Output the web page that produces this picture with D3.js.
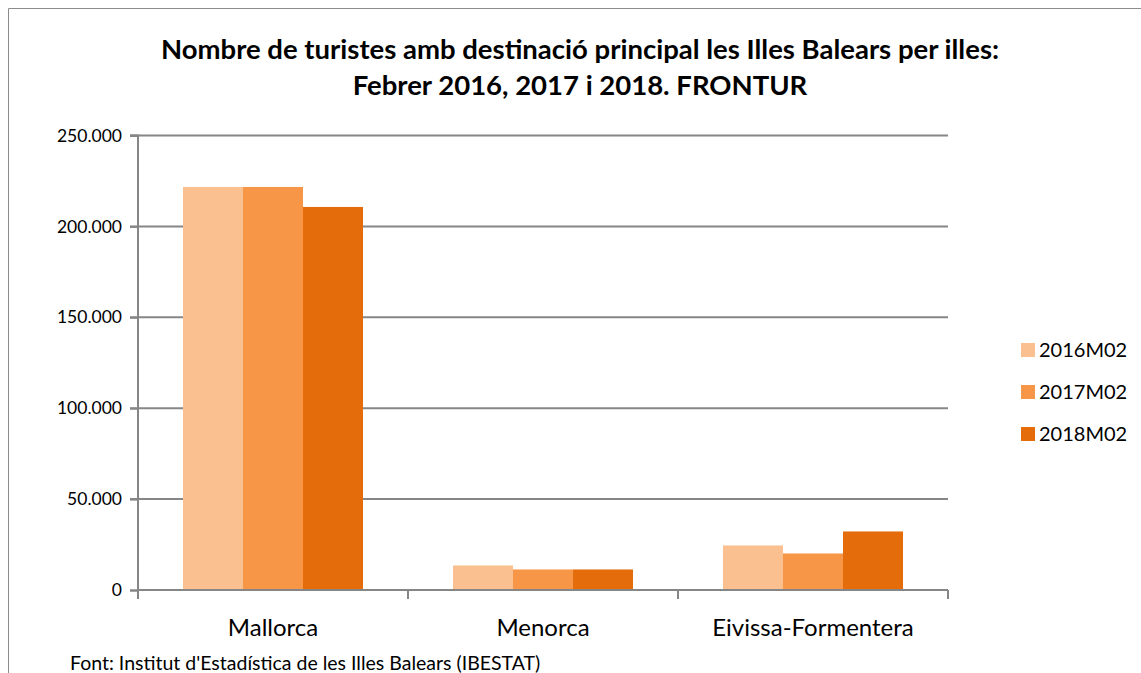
<!DOCTYPE html>
<html><head><meta charset="utf-8">
<script src="https://cdn.jsdelivr.net/npm/d3@7"></script>
<style>body{margin:0;background:#fff}svg{display:block}</style>
</head><body>
<script>
const categories = ["Mallorca", "Menorca", "Eivissa-Formentera"];
const seriesNames = ["2016M02", "2017M02", "2018M02"];
const values2016 = [221700, 13500, 24500];
const values2017 = [221700, 11300, 20100];
const values2018 = [210700, 11300, 32200];
const yTicks = [0, 50000, 100000, 150000, 200000, 250000];
const titleLines = ["Nombre de turistes amb destinació principal les Illes Balears per illes:", "Febrer 2016,  2017  i 2018.  FRONTUR"];
const sourceText = "Font: Institut d'Estadística de les Illes Balears (IBESTAT)";
const colors = ["#FAC090", "#F79646", "#E46C0A"];

const seriesValues = [values2016, values2017, values2018];
const W = 1141, H = 673;
const svg = d3.select("body").append("svg").attr("width", W).attr("height", H);
const font = "Lato, 'Open Sans', sans-serif";

svg.append("path").attr("d", `M8.5,${H} V8.5 H${W}`).attr("fill", "none").attr("stroke", "#8c8c8c").attr("stroke-width", 1);

const x0 = d3.scaleBand().domain(categories).range([138, 948]);
const y = d3.scaleLinear().domain([0, 250000]).range([590, 135.5]);
const x1 = d3.scaleBand().domain(seriesNames).range([0, x0.bandwidth()]).paddingInner(0).paddingOuter(0.75);

// gridlines
svg.append("g").selectAll("line").data(yTicks.filter(d => d > 0)).join("line")
  .attr("x1", 130).attr("x2", 948).attr("y1", d => y(d)).attr("y2", d => y(d))
  .attr("stroke", "#868686").attr("stroke-width", 2);

// bars
const g = svg.append("g");
seriesNames.forEach((s, si) => {
  g.selectAll(null).data(categories).join("rect")
    .attr("x", (c) => x0(c) + x1(s))
    .attr("width", x1.bandwidth())
    .attr("y", (c, i) => y(seriesValues[si][i]))
    .attr("height", (c, i) => y(0) - y(seriesValues[si][i]))
    .attr("fill", colors[si]);
});

// y axis
const yAxis = d3.axisLeft(y).tickValues(yTicks).tickSize(8).tickPadding(8)
  .tickFormat(d => d === 0 ? "0" : d3.format(",")(d).replace(/,/g, "."));
const ya = svg.append("g").attr("transform", "translate(138,0)").call(yAxis);
ya.select(".domain").attr("stroke", "#868686").attr("stroke-width", 2).attr("d", "M-8,590.5H0V135.5H-8");
ya.selectAll(".tick line").attr("stroke", "#868686").attr("stroke-width", 2);
ya.selectAll(".tick text").attr("font-family", font).attr("font-size", 17.5).attr("fill", "#000");

// x axis
const xAxis = d3.axisBottom(x0).tickSize(0).tickPadding(28);
const xa = svg.append("g").attr("transform", "translate(0,590)").call(xAxis);
xa.select(".domain").attr("stroke", "#868686").attr("stroke-width", 2).attr("d", "M138,0H948");
xa.selectAll(".tick text").attr("font-family", font).attr("font-size", 24).attr("fill", "#000").attr("dy", "0.35em");
// category separators
svg.append("g").selectAll("line").data(categories.concat(["end"])).join("line")
  .attr("x1", (d, i) => i < categories.length ? x0(d) : x0.range()[1])
  .attr("x2", (d, i) => i < categories.length ? x0(d) : x0.range()[1])
  .attr("y1", 590).attr("y2", 599).attr("stroke", "#868686").attr("stroke-width", 2);
xa.selectAll(".tick text").attr("y", 38);

// title
svg.append("g").selectAll("text").data(titleLines).join("text")
  .attr("x", 580).attr("y", (d, i) => 59 + i * 36)
  .attr("text-anchor", "middle").attr("font-family", font).attr("font-weight", "bold")
  .attr("font-size", 27.5).attr("fill", "#000").text(d => d);

// legend
const lg = svg.append("g");
seriesNames.forEach((s, i) => {
  lg.append("rect").attr("x", 1021).attr("y", 343 + i * 42).attr("width", 14).attr("height", 14).attr("fill", colors[i]);
  lg.append("text").attr("x", 1039).attr("y", 350 + i * 42).attr("dy", "0.35em")
    .attr("font-family", font).attr("font-size", 20).attr("fill", "#000").text(s);
});

// source
svg.append("text").attr("x", 70).attr("y", 670).attr("font-family", font).attr("font-size", 19.5).attr("fill", "#000").text(sourceText);
</script>
</body></html>
